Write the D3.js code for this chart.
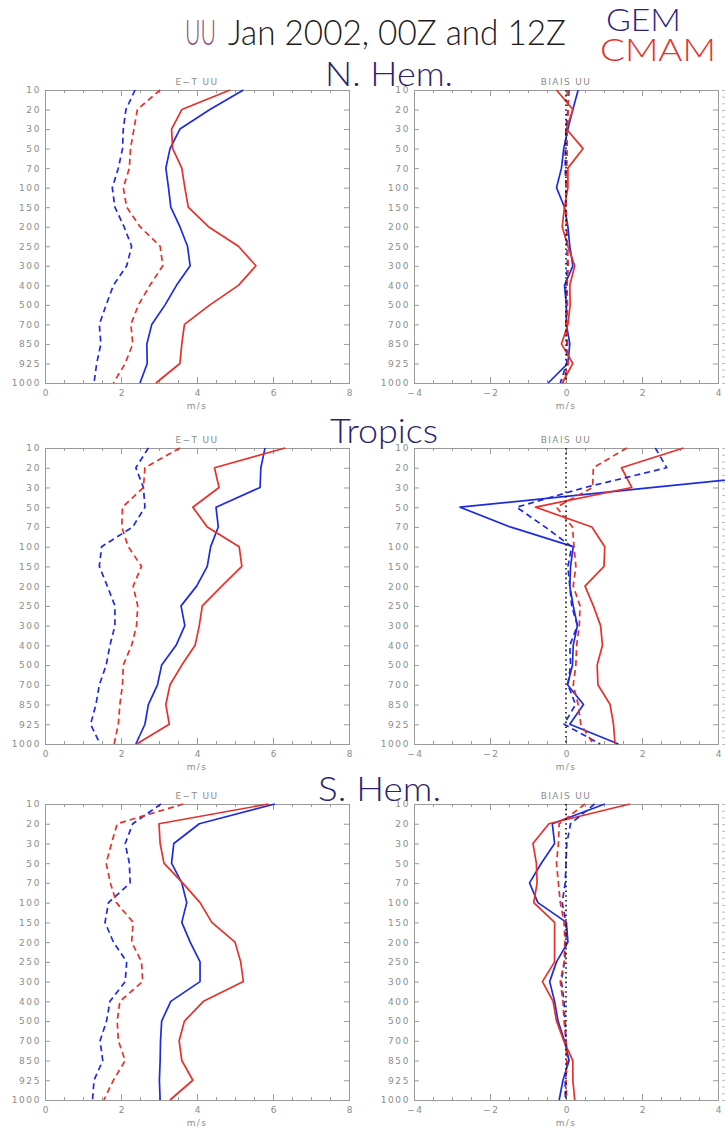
<!DOCTYPE html>
<html>
<head>
<meta charset="utf-8">
<script src="https://cdn.jsdelivr.net/npm/d3@7"></script>
<style>
  html, body { margin: 0; padding: 0; background: #fff; }
  svg { display: block; }
</style>
</head>
<body>
<svg id="chart" width="725" height="1129"></svg>
<script>
// Pressure levels (hPa), top of the profile first
const levels = [10, 20, 30, 50, 70, 100, 150, 200, 250, 300, 400, 500, 700, 850, 925, 1000];

const etTicks = [0, 2, 4, 6, 8];
const biasTicks = [-4, -2, 0, 2, 4];

// ---- N. Hem. ----
const nhEtGem        = [5.22, 4.34, 3.55, 3.29, 3.18, 3.25, 3.31, 3.55, 3.75, 3.82, 3.46, 3.16, 2.81, 2.68, 2.69, 2.50];
const nhEtCmam       = [4.87, 3.60, 3.33, 3.36, 3.60, 3.68, 3.77, 4.30, 5.09, 5.55, 5.09, 4.34, 3.67, 3.60, 3.55, 2.92];
const nhEtGemDash    = [2.37, 2.13, 2.06, 2.04, 1.93, 1.77, 1.84, 2.08, 2.28, 2.15, 1.80, 1.61, 1.43, 1.47, 1.36, 1.29];
const nhEtCmamDash   = [3.03, 2.43, 2.34, 2.25, 2.22, 2.06, 2.15, 2.50, 3.03, 3.10, 2.76, 2.46, 2.26, 2.31, 2.11, 1.80];
const nhBiasGem      = [0.32, 0.18, 0.05, -0.06, -0.12, -0.25, -0.04, 0.05, 0.10, 0.18, -0.04, 0.01, 0.01, 0.10, 0.05, -0.47];
const nhBiasCmam     = [-0.25, 0.18, 0.01, 0.45, 0.05, 0.05, -0.04, -0.10, 0.05, 0.23, 0.10, 0.11, 0.05, -0.12, 0.18, -0.10];
const nhBiasGemDash  = [0.08, 0.05, 0.00, -0.02, -0.02, 0.00, 0.00, 0.02, 0.03, 0.04, 0.00, 0.02, 0.00, 0.04, 0.02, -0.15];
const nhBiasCmamDash = [0.05, 0.06, 0.03, 0.03, 0.02, 0.00, 0.00, 0.02, 0.04, 0.06, 0.03, 0.04, 0.02, 0.02, 0.06, -0.08];

// ---- Tropics ----
const trEtGem        = [5.79, 5.68, 5.66, 4.50, 4.56, 4.36, 4.27, 3.99, 3.58, 3.68, 3.45, 3.07, 2.96, 2.72, 2.63, 2.39];
const trEtCmam       = [6.32, 4.46, 4.58, 3.89, 4.27, 5.11, 5.18, 4.65, 4.14, 4.06, 3.95, 3.60, 3.29, 3.18, 3.27, 2.41];
const trEtGemDash    = [2.72, 2.39, 2.59, 2.63, 2.31, 1.49, 1.43, 1.64, 1.84, 1.84, 1.71, 1.61, 1.43, 1.34, 1.20, 1.45];
const trEtCmamDash   = [3.55, 2.63, 2.59, 2.04, 2.02, 2.19, 2.54, 2.32, 2.44, 2.41, 2.28, 2.06, 2.04, 1.97, 1.93, 1.82];
const trBiasGem      = [6.00, 7.30, 2.30, -2.79, -1.47, 0.19, 0.12, 0.10, 0.19, 0.30, 0.19, 0.17, 0.04, 0.46, 0.10, 1.38];
const trBiasCmam     = [3.09, 1.46, 1.73, -0.80, 0.68, 1.02, 1.00, 0.50, 0.72, 0.91, 0.96, 0.82, 0.84, 1.16, 1.25, 1.29];
const trBiasGemDash  = [2.35, 2.65, 0.50, -1.30, -0.55, 0.15, 0.05, 0.10, 0.15, 0.30, 0.10, 0.12, 0.05, 0.25, -0.05, 0.90];
const trBiasCmamDash = [1.60, 0.72, 0.70, -0.25, 0.17, 0.21, 0.26, 0.19, 0.37, 0.35, 0.28, 0.26, 0.19, 0.32, 0.39, 0.72];

// ---- S. Hem. ----
const shEtGem        = [6.05, 4.06, 3.39, 3.33, 3.60, 3.73, 3.60, 3.82, 4.08, 4.08, 3.31, 3.07, 3.04, 3.03, 3.01, 3.03];
const shEtCmam       = [5.88, 3.00, 3.03, 3.13, 3.62, 4.08, 4.39, 5.00, 5.15, 5.22, 4.17, 3.67, 3.53, 3.60, 3.89, 3.29];
const shEtGemDash    = [3.05, 2.31, 2.11, 2.22, 2.24, 1.67, 1.58, 1.80, 2.15, 2.11, 1.71, 1.62, 1.45, 1.52, 1.29, 1.25];
const shEtCmamDash   = [3.64, 1.90, 1.75, 1.61, 1.72, 1.88, 2.32, 2.28, 2.54, 2.57, 1.97, 1.90, 1.93, 2.11, 1.80, 1.55];
const shBiasGem      = [1.02, -0.36, -0.30, -0.65, -0.96, -0.74, 0.01, 0.05, -0.25, -0.43, -0.30, -0.21, -0.04, 0.08, -0.08, -0.18];
const shBiasCmam     = [1.68, -0.45, -0.87, -0.78, -0.76, -0.85, -0.30, -0.30, -0.30, -0.62, -0.34, -0.25, -0.06, 0.18, 0.18, 0.23];
const shBiasGemDash  = [0.75, 0.12, 0.02, 0.00, -0.02, -0.10, 0.00, 0.00, -0.04, -0.12, -0.05, -0.03, 0.00, 0.05, -0.02, -0.02];
const shBiasCmamDash = [0.50, -0.18, -0.20, -0.25, -0.20, -0.15, -0.05, -0.03, -0.05, -0.15, -0.08, -0.05, 0.00, 0.02, 0.00, 0.02];

const GEM_COLOR = "#1f2be0";
const CMAM_COLOR = "#e8302a";
const AXIS_GREY = "#9a9a9a";
const LABEL_GREY = "#8c8c8c";
const BIG_FONT = "Lato, 'Open Sans', 'DejaVu Sans', sans-serif";
const SMALL_FONT = "'DejaVu Sans', sans-serif";

const svg = d3.select("#chart");

// Panel rows: vertical extents of the plot boxes
const rows = [
  { name: "N. Hem.", top: 90, bottom: 383, labelX: 325, labelW: 128, labelY: 86,
    et: [nhEtGem, nhEtCmam, nhEtGemDash, nhEtCmamDash],
    bias: [nhBiasGem, nhBiasCmam, nhBiasGemDash, nhBiasCmamDash] },
  { name: "Tropics", top: 448, bottom: 744, labelX: 330, labelW: 108, labelY: 443,
    et: [trEtGem, trEtCmam, trEtGemDash, trEtCmamDash],
    bias: [trBiasGem, trBiasCmam, trBiasGemDash, trBiasCmamDash] },
  { name: "S. Hem.", top: 804, bottom: 1100, labelX: 318, labelW: 123, labelY: 801,
    et: [shEtGem, shEtCmam, shEtGemDash, shEtCmamDash],
    bias: [shBiasGem, shBiasCmam, shBiasGemDash, shBiasCmamDash] }
];

// Drawing order and styling of the four profiles in each panel
const seriesStyle = [
  { color: GEM_COLOR, dash: null },
  { color: CMAM_COLOR, dash: null },
  { color: GEM_COLOR, dash: "6,4" },
  { color: CMAM_COLOR, dash: "6,4" }
];

function fitText(sel, width) {
  sel.attr("textLength", width).attr("lengthAdjust", "spacingAndGlyphs");
}

function styleAxis(g) {
  g.select(".domain").attr("stroke", AXIS_GREY).attr("stroke-width", 1);
  g.selectAll(".tick line").attr("stroke", AXIS_GREY).attr("stroke-width", 1);
  g.selectAll(".tick text")
    .attr("fill", LABEL_GREY)
    .attr("font-family", SMALL_FONT)
    .attr("font-size", 9)
    .attr("letter-spacing", 1.6);
}

function drawPanel(row, x0, x1, domain, majorTicks, series, title, isBias) {
  const x = d3.scaleLinear().domain(domain).range([x0, x1]);
  const y = d3.scalePoint().domain(levels).range([row.top, row.bottom]);
  const g = svg.append("g");

  const minorTicks = d3.range(domain[0], domain[1] + 0.001, 0.5);

  // Minor x ticks, bottom and top
  g.append("g").attr("transform", `translate(0,${row.bottom})`)
    .call(d3.axisBottom(x).tickValues(minorTicks).tickSize(-3).tickFormat(""))
    .call(styleAxis);
  g.append("g").attr("transform", `translate(0,${row.top})`)
    .call(d3.axisTop(x).tickValues(minorTicks).tickSize(-3).tickFormat(""))
    .call(styleAxis);

  // Major x ticks with labels
  const bottomAxis = g.append("g").attr("transform", `translate(0,${row.bottom})`)
    .call(d3.axisBottom(x).tickValues(majorTicks).tickSize(-6).tickPadding(7)
      .tickFormat(d => (d < 0 ? "\u2212" : "") + Math.abs(d)))
    .call(styleAxis);
  bottomAxis.selectAll(".tick text").attr("dx", "0.1em");
  g.append("g").attr("transform", `translate(0,${row.top})`)
    .call(d3.axisTop(x).tickValues(majorTicks).tickSize(-6).tickFormat(""))
    .call(styleAxis);

  // Pressure axes, left with labels, right without
  g.append("g").attr("transform", `translate(${x0},0)`)
    .call(d3.axisLeft(y).tickSize(-5).tickPadding(4))
    .call(styleAxis);
  g.append("g").attr("transform", `translate(${x1},0)`)
    .call(d3.axisRight(y).tickSize(-5).tickFormat(""))
    .call(styleAxis);

  // Axis unit and panel title
  g.append("text")
    .attr("x", (x0 + x1) / 2).attr("y", row.bottom + 26)
    .attr("text-anchor", "middle")
    .attr("fill", LABEL_GREY).attr("font-family", SMALL_FONT)
    .attr("font-size", 9).attr("letter-spacing", 1.4)
    .text("m/s");
  g.append("text")
    .attr("x", (x0 + x1) / 2).attr("y", row.top - 5)
    .attr("text-anchor", "middle")
    .attr("fill", LABEL_GREY).attr("font-family", SMALL_FONT)
    .attr("font-size", 9).attr("letter-spacing", 1.4)
    .text(title);

  const line = d3.line()
    .x(d => x(d.v))
    .y(d => y(d.lev));

  series.forEach((vals, i) => {
    const pts = vals.map((v, k) => ({ lev: levels[k], v }));
    g.append("path")
      .datum(pts)
      .attr("d", line)
      .attr("fill", "none")
      .attr("stroke", seriesStyle[i].color)
      .attr("stroke-width", 1.7)
      .attr("stroke-linejoin", "round")
      .attr("stroke-dasharray", seriesStyle[i].dash);
  });

  if (isBias) {
    // Zero reference
    g.append("line")
      .attr("x1", x(0)).attr("x2", x(0))
      .attr("y1", row.top).attr("y2", row.bottom)
      .attr("stroke", "#111").attr("stroke-width", 1.6)
      .attr("stroke-dasharray", "1.6,3.2");

    // Outer secondary scale on the far right (labels fall off the page)
    const yAlt = d3.scaleLinear().domain([0, 44]).range([row.top, row.bottom]);
    g.append("g").attr("transform", "translate(722,0)")
      .call(d3.axisRight(yAlt).ticks(44).tickSize(3).tickFormat(""))
      .call(g2 => g2.select(".domain").remove())
      .call(g2 => g2.selectAll(".tick line").attr("stroke", "#bbb"));
  }
}

rows.forEach(row => {
  drawPanel(row, 45, 349, [0, 8], etTicks, row.et, "E\u2212T UU", false);
  drawPanel(row, 414, 718, [-4, 4], biasTicks, row.bias, "BIAIS UU", true);

  svg.append("text")
    .attr("x", row.labelX).attr("y", row.labelY)
    .attr("fill", "#2b1f6e").attr("font-family", BIG_FONT)
    .attr("font-size", 34).attr("font-weight", 300)
    .text(row.name)
    .call(fitText, row.labelW);
});

// Header
svg.append("text")
  .attr("x", 185).attr("y", 45)
  .attr("fill", "#8b4a7c").attr("font-family", BIG_FONT).attr("font-size", 36)
  .attr("font-weight", 300)
  .text("UU").call(fitText, 31);
svg.append("text")
  .attr("x", 228).attr("y", 45)
  .attr("fill", "#1c1c1c").attr("font-family", BIG_FONT).attr("font-size", 36)
  .attr("font-weight", 300)
  .text("Jan 2002, 00Z and 12Z").call(fitText, 338);
svg.append("text")
  .attr("x", 606).attr("y", 31)
  .attr("fill", "#2b1f7e").attr("font-family", BIG_FONT).attr("font-size", 32)
  .attr("font-weight", 300)
  .text("GEM").call(fitText, 75);
svg.append("text")
  .attr("x", 600).attr("y", 61)
  .attr("fill", CMAM_COLOR).attr("font-family", BIG_FONT).attr("font-size", 32)
  .attr("font-weight", 300)
  .text("CMAM").call(fitText, 116);
</script>
</body>
</html>
